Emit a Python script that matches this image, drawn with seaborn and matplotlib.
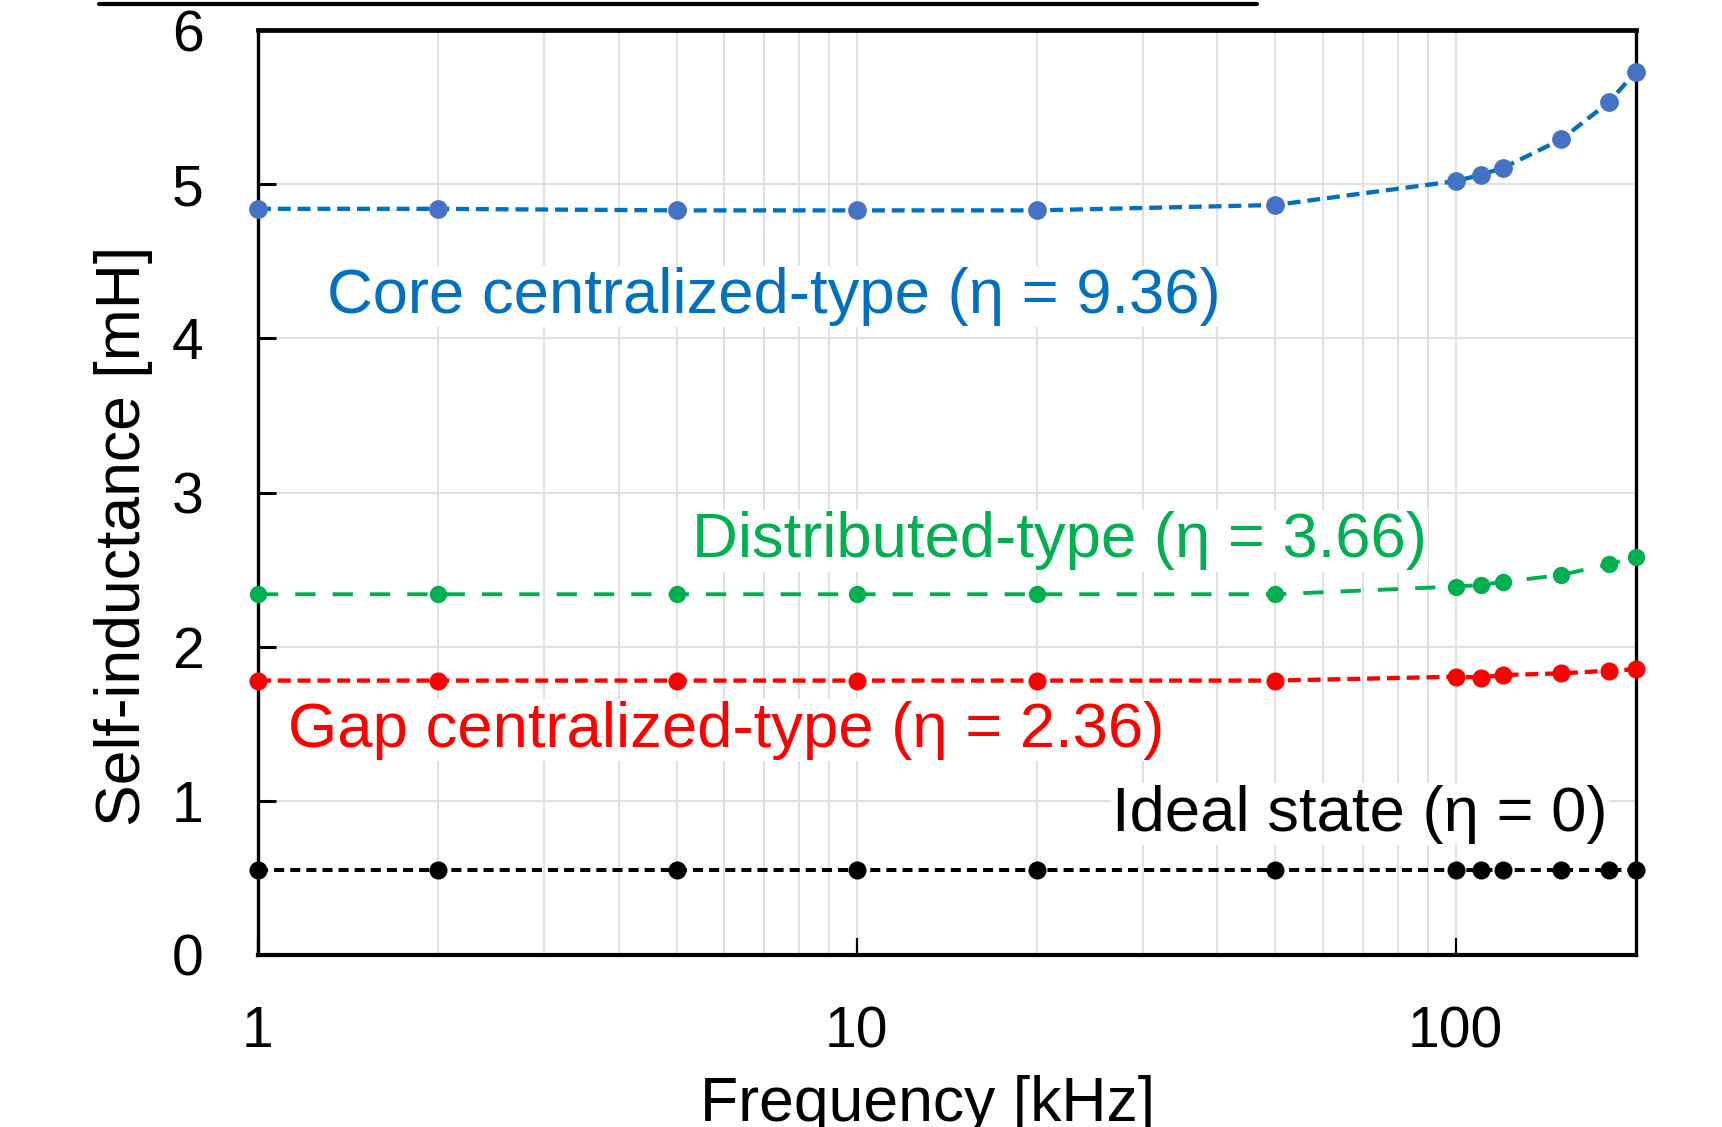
import numpy as np
import pandas as pd
import matplotlib
matplotlib.use("Agg")
import matplotlib.pyplot as plt
from matplotlib.lines import Line2D
from matplotlib.ticker import LogLocator, NullFormatter
import seaborn as sns

# ---------------- data ----------------
freq_khz = [1, 2, 5, 10, 20, 50, 100, 110, 120, 150, 180, 200]
core_centralized = [4.84, 4.84, 4.83, 4.83, 4.83, 4.865, 5.02, 5.06, 5.106, 5.29, 5.53, 5.73]
distributed = [2.34, 2.34, 2.34, 2.34, 2.34, 2.34, 2.39, 2.40, 2.42, 2.465, 2.535, 2.58]
gap_centralized = [1.78, 1.78, 1.78, 1.78, 1.78, 1.78, 1.805, 1.80, 1.816, 1.827, 1.844, 1.853]
ideal_state = [0.55, 0.55, 0.55, 0.55, 0.55, 0.55, 0.55, 0.55, 0.55, 0.55, 0.55, 0.55]

labels = ["Core centralized-type (η = 9.36)",
          "Distributed-type (η = 3.66)",
          "Gap centralized-type (η = 2.36)",
          "Ideal state (η = 0)"]
x_ticks = [1, 10, 100]
x_tick_labels = ["1", "10", "100"]
y_ticks = [0, 1, 2, 3, 4, 5, 6]
x_label = "Frequency [kHz]"
y_label = "Self-inductance [mH]"

# ---------------- style ----------------
sns.set_theme(style="white")
plt.rcParams["font.family"] = ["Liberation Sans", "DejaVu Sans"]

fig = plt.figure(figsize=(17.22, 11.27), dpi=100)
ax = fig.add_axes([258 / 1722, 1 - 955 / 1127, (1636 - 258) / 1722, (955 - 30) / 1127])
ax.set_xscale("log")

series = [
    (core_centralized, "#0070C0", "#4472C4", 3.1, (3.0, 1.6), 13.5),
    (distributed, "#00B050", "#00B050", 2.8, (5.2, 4.4), 12.5),
    (gap_centralized, "#FF0000", "#FF0000", 3.1, (3.0, 1.6), 13),
    (ideal_state, "#000000", "#000000", 2.9, (2.5, 1.5), 13),
]
for vals, lc, mc, lw, dash, ms in series:
    df = pd.DataFrame({"f": freq_khz, "L": vals})
    sns.lineplot(data=df, x="f", y="L", ax=ax, color=lc, linewidth=lw,
                 linestyle=(0, dash), marker="o", markersize=ms,
                 markerfacecolor=mc, markeredgewidth=0, clip_on=False,
                 zorder=5, legend=False)

ax.set_xlim(1, 200)
ax.set_ylim(0, 6)
ax.set_xticks(x_ticks)
ax.set_xticklabels(x_tick_labels)
ax.set_yticks(y_ticks)

ax.xaxis.set_minor_locator(LogLocator(base=10, subs=np.arange(2, 10)))
ax.xaxis.set_minor_formatter(NullFormatter())

ax.grid(True, which="major", color="#E0E0E0", linewidth=1.4, zorder=0)
ax.grid(True, which="minor", axis="x", color="#E0E0E0", linewidth=1.4, zorder=0)
ax.set_axisbelow(True)

ax.tick_params(axis="y", which="major", direction="in", length=13, width=2.2,
               labelsize=41, pad=39, colors="black", left=True)
ax.tick_params(axis="x", which="major", direction="in", length=12, width=1.6,
               labelsize=41, pad=36, colors="black", bottom=True)
ax.tick_params(axis="x", which="minor", length=0)

for side, lw in [("left", 2.4), ("right", 2.4), ("bottom", 3.0), ("top", 3.4)]:
    ax.spines[side].set_visible(True)
    ax.spines[side].set_color("black")
    ax.spines[side].set_linewidth(lw)

ax.set_xlabel(x_label, fontsize=45, color="black")
ax.set_ylabel(y_label, fontsize=45, color="black")
ax.xaxis.set_label_coords(0.486, -0.130)
ax.yaxis.set_label_coords(-0.076, 0.453)

box = dict(facecolor="white", edgecolor="none", pad=1)
text_specs = [
    (labels[0], 0.050, 0.712, "#0070C0"),
    (labels[1], 0.315, 0.4476, "#00B050"),
    (labels[2], 0.0218, 0.243, "#FF0000"),
    (labels[3], 0.620, 0.1524, "#000000"),
]
for txt, tx, ty, col in text_specs:
    ax.text(tx, ty, txt, transform=ax.transAxes, fontsize=45.6, color=col,
            ha="left", va="center", bbox=box, zorder=3)

# title underline partially visible at the top edge
fig.add_artist(Line2D([99 / 1722, 1257 / 1722], [1 - 4 / 1127, 1 - 4 / 1127],
                      transform=fig.transFigure, color="black", linewidth=3))

fig.savefig("out.png", dpi=100)
